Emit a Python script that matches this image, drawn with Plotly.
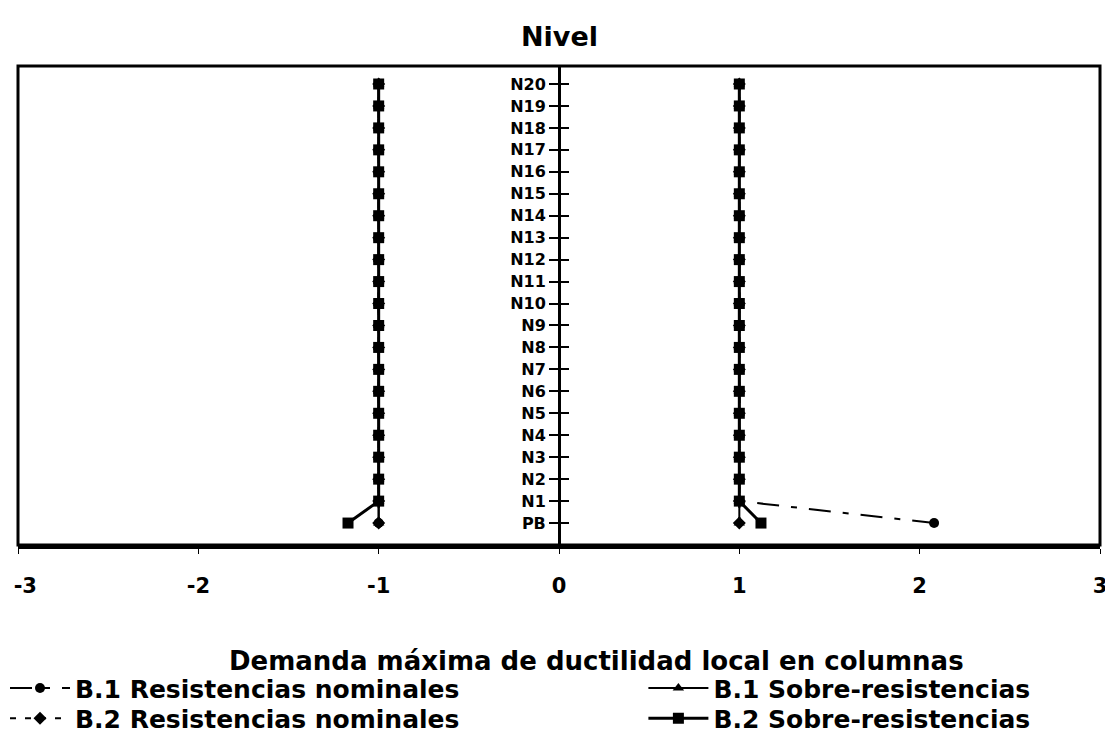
import plotly.graph_objects as go

# Levels of the building, bottom to top.
levels = ["PB", "N1", "N2", "N3", "N4", "N5", "N6", "N7", "N8", "N9", "N10",
          "N11", "N12", "N13", "N14", "N15", "N16", "N17", "N18", "N19", "N20"]

# Ductility demand, positive direction (right side).
b1_nom_pos = [2.08, 1.0, 1.0, 1.0, 1.0, 1.0, 1.0, 1.0, 1.0, 1.0, 1.0,
              1.0, 1.0, 1.0, 1.0, 1.0, 1.0, 1.0, 1.0, 1.0, 1.0]
b1_sob_pos = [1.0, 1.0, 1.0, 1.0, 1.0, 1.0, 1.0, 1.0, 1.0, 1.0, 1.0,
              1.0, 1.0, 1.0, 1.0, 1.0, 1.0, 1.0, 1.0, 1.0, 1.0]
b2_nom_pos = [1.0, 1.0, 1.0, 1.0, 1.0, 1.0, 1.0, 1.0, 1.0, 1.0, 1.0,
              1.0, 1.0, 1.0, 1.0, 1.0, 1.0, 1.0, 1.0, 1.0, 1.0]
b2_sob_pos = [1.12, 1.0, 1.0, 1.0, 1.0, 1.0, 1.0, 1.0, 1.0, 1.0, 1.0,
              1.0, 1.0, 1.0, 1.0, 1.0, 1.0, 1.0, 1.0, 1.0, 1.0]

# Ductility demand, negative direction (left side).
b1_nom_neg = [-1.0, -1.0, -1.0, -1.0, -1.0, -1.0, -1.0, -1.0, -1.0, -1.0, -1.0,
              -1.0, -1.0, -1.0, -1.0, -1.0, -1.0, -1.0, -1.0, -1.0, -1.0]
b1_sob_neg = [-1.0, -1.0, -1.0, -1.0, -1.0, -1.0, -1.0, -1.0, -1.0, -1.0, -1.0,
              -1.0, -1.0, -1.0, -1.0, -1.0, -1.0, -1.0, -1.0, -1.0, -1.0]
b2_nom_neg = [-1.0, -1.0, -1.0, -1.0, -1.0, -1.0, -1.0, -1.0, -1.0, -1.0, -1.0,
              -1.0, -1.0, -1.0, -1.0, -1.0, -1.0, -1.0, -1.0, -1.0, -1.0]
b2_sob_neg = [-1.17, -1.0, -1.0, -1.0, -1.0, -1.0, -1.0, -1.0, -1.0, -1.0, -1.0,
              -1.0, -1.0, -1.0, -1.0, -1.0, -1.0, -1.0, -1.0, -1.0, -1.0]

x_ticks = [-3, -2, -1, 0, 1, 2, 3]
# leading no-break space nudges the edge label inside the page
x_tick_labels = ["\u00a0\u00a0-3", "-2", "-1", "0", "1", "2", "3"]

names = ["B.1 Resistencias nominales", "B.1 Sobre-resistencias",
         "B.2 Resistencias nominales", "B.2 Sobre-resistencias"]
pos_series = [b1_nom_pos, b1_sob_pos, b2_nom_pos, b2_sob_pos]
neg_series = [b1_nom_neg, b1_sob_neg, b2_nom_neg, b2_sob_neg]
styles = [
    dict(dash="22px,12px,6px,12px", width=2, symbol="circle", size=10),
    dict(dash="solid", width=2, symbol="triangle-up", size=10),
    dict(dash="6px,9px", width=2, symbol="diamond", size=10),
    dict(dash="solid", width=3, symbol="square", size=11),
]
# one legend per entry, laid out as a 2x2 grid below the chart
legend_ids = ["legend", "legend2", "legend3", "legend4"]
legend_pos = [(-0.012, -0.251), (0.578, -0.251), (-0.012, -0.314), (0.578, -0.314)]

font = "DejaVu Sans, Liberation Sans, Arial, sans-serif"
fig = go.Figure()

for name, pos, neg, st, lg in zip(names, pos_series, neg_series, styles, legend_ids):
    for xs, show in ((pos, True), (neg, False)):
        fig.add_trace(go.Scatter(
            x=xs, y=levels, name="<b>" + name + "</b>", mode="lines+markers",
            showlegend=show, legendgroup=name, legend=lg,
            line=dict(color="black", width=st["width"], dash=st["dash"]),
            marker=dict(color="black", symbol=st["symbol"], size=st["size"]),
        ))

legend_style = dict(orientation="v", yanchor="top", xanchor="left",
                    font=dict(size=25, family=font), itemwidth=60,
                    tracegroupgap=0, bgcolor="rgba(0,0,0,0)")
for lg, (lx, ly) in zip(legend_ids, legend_pos):
    fig.update_layout({lg: dict(legend_style, x=lx, y=ly)})

fig.update_layout(
    width=1105, height=726,
    paper_bgcolor="white", plot_bgcolor="white",
    margin=dict(l=10, r=13, t=58, b=189, autoexpand=False),
    font=dict(family=font, color="black", size=15),
    xaxis=dict(
        range=[-3, 3], tickvals=x_ticks, ticktext=x_tick_labels,
        showgrid=False, zeroline=False, automargin=False,
        showline=True, linecolor="black", linewidth=4,
        ticks="outside", ticklen=5, tickcolor="black",
        ticklabelstandoff=14, ticklabeloverflow="allow",
        tickfont=dict(size=21, family=font, weight="bold"),
    ),
    yaxis=dict(
        type="category", categoryorder="array", categoryarray=levels,
        range=[-1.0, 20.82], automargin=False,
        showgrid=False, zeroline=False,
        anchor="free", position=0.5,
        showline=True, linecolor="black", linewidth=3,
        ticks="outside", ticklen=9, tickwidth=2, tickcolor="black",
        tickfont=dict(size=16, family=font, weight="bold"),
    ),
    annotations=[
        dict(text="<b>Nivel</b>", x=0.5, y=1.0, xref="paper", yref="paper",
             yshift=30, yanchor="middle", showarrow=False,
             font=dict(size=27, family=font)),
        dict(text="<b>Demanda máxima de ductilidad local en columnas</b>",
             x=0.535, y=0.0, xref="paper", yref="paper",
             yshift=-116, yanchor="middle", showarrow=False,
             font=dict(size=26, family=font)),
    ],
    shapes=[dict(
        type="rect", xref="paper", yref="paper", x0=0, x1=1, y0=0, y1=1,
        line=dict(color="black", width=3),
    )],
)

# Cross ticks on the level axis: add an overlaid axis with inside ticks.
fig.update_layout(yaxis2=dict(
    type="category", categoryorder="array", categoryarray=levels,
    range=[-1.0, 20.82], overlaying="y", anchor="free", position=0.5,
    showgrid=False, zeroline=False, showticklabels=False, automargin=False,
    ticks="inside", ticklen=9, tickwidth=2, tickcolor="black",
))
fig.add_trace(go.Scatter(x=[None], y=[None], yaxis="y2", showlegend=False,
                         hoverinfo="skip"))

fig.write_html("out.html")
